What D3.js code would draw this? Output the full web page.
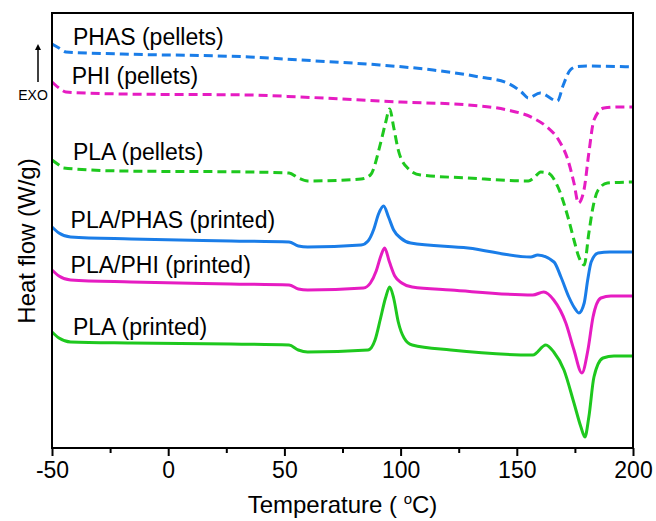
<!DOCTYPE html>
<html>
<head>
<meta charset="utf-8">
<script src="https://d3js.org/d3.v7.min.js"></script>
<style>
  body { margin: 0; background: #fff; }
  text { font-family: Arial, "Liberation Sans", sans-serif; fill: #000; }
</style>
</head>
<body>
<div id="chart-area"></div>
<script>
// DSC curves, temperature (C) vs heat flow (offset, arbitrary units)
var phasPellets = [[-50,40.4],[-47,40.0],[-44,39.6],[-20,39.4],[35,39.1],[57,38.8],[91,38.3],[114,37.8],[134,37.1],[146,36.5],[152,35.6],[155,35.0],[160,35.5],[167.5,34.7],[170,36.3],[173,37.8],[176,38.15],[180,38.2],[200,38.1]];
var phiPellets = [[-50,36.6],[-47,36.0],[-44,35.6],[-20,35.4],[35,35.3],[57,35.1],[100,34.6],[129,34.3],[146,33.8],[157,33.0],[163,32.1],[168,30.8],[172,28.8],[174.6,26.5],[176.5,24.5],[178.9,25.8],[181,29.5],[183.2,32.8],[187.5,34.0],[193.5,34.1],[200,34.1]];
var plaPellets = [[-50,28.8],[-47,28.3],[-45,28.0],[-20,27.7],[35,27.6],[52,27.5],[56,27.0],[60,26.7],[83,26.9],[87,27.3],[91.4,30.5],[93.5,32.5],[95.3,33.9],[97,32.1],[99,29.8],[103,28.0],[108.6,27.3],[129,27.0],[155,26.7],[157.3,27.0],[160.3,27.6],[163.4,27.5],[167.7,26.1],[172,23.1],[174.6,20.8],[176.7,19.1],[179,18.3],[181,21.5],[182.8,24.1],[185,25.8],[189,26.5],[200,26.6]];
var plaPhasPrinted = [[-50,22.1],[-47,21.5],[-42,21.1],[-16,20.9],[27,20.7],[52,20.6],[56,20.2],[60,20.1],[83,20.3],[86,20.7],[88.5,21.9],[90.5,23.4],[92.7,24.2],[94.8,23.1],[97,21.8],[100,21.0],[104.3,20.5],[129,20.0],[156,19.1],[159,19.3],[166,18.6],[169,17.1],[172.4,15.1],[174.6,14.1],[176.7,13.5],[179,14.5],[180.5,16.8],[182,18.6],[185,19.5],[190,19.6],[200,19.6]];
var plaPhiPrinted = [[-50,17.8],[-47,17.2],[-42,16.8],[-16,16.6],[27,16.4],[52,16.3],[56,15.9],[60,15.8],[84,16.0],[87,16.5],[89.5,17.7],[91.5,19.2],[93.1,20.0],[95.2,18.6],[97.5,17.2],[100.5,16.5],[105,16.1],[121.6,15.8],[156.9,15.3],[161.6,15.6],[165.9,14.8],[171.1,12.5],[174.6,9.8],[178,7.5],[180.6,9.8],[182.8,13.1],[186.2,15.0],[190.5,15.2],[200,15.2]];
var plaPrinted = [[-50,11.6],[-47,11.0],[-42,10.6],[-16,10.5],[27,10.4],[52,10.3],[56,9.8],[60,9.6],[86,9.8],[89,10.8],[91.3,12.9],[93.5,15.0],[95.3,16.1],[97,15.0],[99,12.6],[101.5,11.0],[105,10.3],[121.6,9.8],[156.9,9.3],[162.5,10.3],[165.9,9.6],[170.3,7.8],[174.6,4.5],[177.6,2.1],[179.3,1.1],[181,3.1],[183.2,7.1],[187.1,9.0],[191.8,9.2],[200,9.2]];

var seriesNames = ["PHAS (pellets)", "PHI (pellets)", "PLA (pellets)", "PLA/PHAS (printed)", "PLA/PHI (printed)", "PLA (printed)"];
var seriesData = [phasPellets, phiPellets, plaPellets, plaPhasPrinted, plaPhiPrinted, plaPrinted];
// label anchor (temperature, heat flow) for each curve name
var labelPos = [[-41,40.3],[-41.5,36.4],[-41,28.8],[-42,22.0],[-42,17.5],[-41,11.3]];

var xTicks = [-50, 0, 50, 100, 150, 200];
var xMinor = [-25, 25, 75, 125, 175];

var colors = ["#1a7de8", "#e61cc2", "#1ec81e", "#1a7de8", "#e61cc2", "#1ec81e"];
var dashed = [true, true, true, false, false, false];

var margin = { left: 52, right: 23, top: 13, bottom: 73 };
var width = 656 - margin.left - margin.right,
    height = 521 - margin.top - margin.bottom;

var svg = d3.select("#chart-area")
    .append("svg")
        .attr("width", 656)
        .attr("height", 521);

var g = svg.append("g")
    .attr("transform", "translate(" + margin.left + ", " + margin.top + ")");

var x = d3.scaleLinear().domain([-50, 200]).range([0, width]);
var y = d3.scaleLinear().domain([0, 43.5]).range([height, 0]);

var line = d3.line()
    .x(d => x(d[0]))
    .y(d => y(d[1]))
    .curve(d3.curveMonotoneX);

// curves
g.selectAll(".curve")
    .data(seriesData)
    .join("path")
        .attr("class", "curve")
        .attr("d", line)
        .attr("fill", "none")
        .attr("stroke", (d, i) => colors[i])
        .attr("stroke-width", 3)
        .attr("stroke-dasharray", (d, i) => dashed[i] ? "9,5" : null)
        .attr("stroke-linejoin", "round");

// curve names
g.selectAll(".lbl")
    .data(seriesNames)
    .join("text")
        .attr("class", "lbl")
        .attr("x", (d, i) => x(labelPos[i][0]))
        .attr("y", (d, i) => y(labelPos[i][1]))
        .attr("font-size", 23)
        .text(d => d);

// frame
g.append("rect")
    .attr("width", width)
    .attr("height", height)
    .attr("fill", "none")
    .attr("stroke", "#000")
    .attr("stroke-width", 2);

// x axis (plain hyphen for negatives, like the original)
var xAxis = d3.axisBottom(x)
    .tickValues(xTicks)
    .tickSize(8)
    .tickPadding(6)
    .tickFormat(d => String(d));

var xg = g.append("g")
    .attr("transform", "translate(0," + height + ")")
    .call(xAxis);
xg.select(".domain").remove();
xg.selectAll("line").attr("stroke-width", 2);
xg.selectAll("text")
    .attr("font-size", 23)
    .attr("font-family", "Arial, 'Liberation Sans', sans-serif")
    .attr("fill", "#000");

var xm = g.append("g")
    .attr("transform", "translate(0," + height + ")")
    .call(d3.axisBottom(x).tickValues(xMinor).tickSize(5).tickFormat(""));
xm.select(".domain").remove();
xm.selectAll("line").attr("stroke-width", 2);

// axis titles
var xt = svg.append("text")
    .attr("x", margin.left + width / 2)
    .attr("y", 513)
    .attr("text-anchor", "middle")
    .attr("font-size", 24);
xt.append("tspan").text("Temperature ( ");
xt.append("tspan").attr("dy", -9).attr("font-size", 15).text("o");
xt.append("tspan").attr("dy", 9).text("C)");

svg.append("text")
    .attr("transform", "translate(35,241) rotate(-90)")
    .attr("text-anchor", "middle")
    .attr("font-size", 24)
    .text("Heat flow (W/g)");

// EXO arrow
svg.append("defs").append("marker")
    .attr("id", "arr")
    .attr("viewBox", "0 0 10 10")
    .attr("refX", 5).attr("refY", 5)
    .attr("markerWidth", 4).attr("markerHeight", 5)
    .attr("orient", "auto")
  .append("path")
    .attr("d", "M0,0 L10,5 L0,10 z")
    .attr("fill", "#000");

svg.append("line")
    .attr("x1", 38).attr("y1", 82)
    .attr("x2", 38).attr("y2", 47)
    .attr("stroke", "#000")
    .attr("stroke-width", 1.5)
    .attr("marker-end", "url(#arr)");

svg.append("text")
    .attr("x", 33)
    .attr("y", 100)
    .attr("text-anchor", "middle")
    .attr("font-size", 14)
    .text("EXO");
</script>
</body>
</html>
